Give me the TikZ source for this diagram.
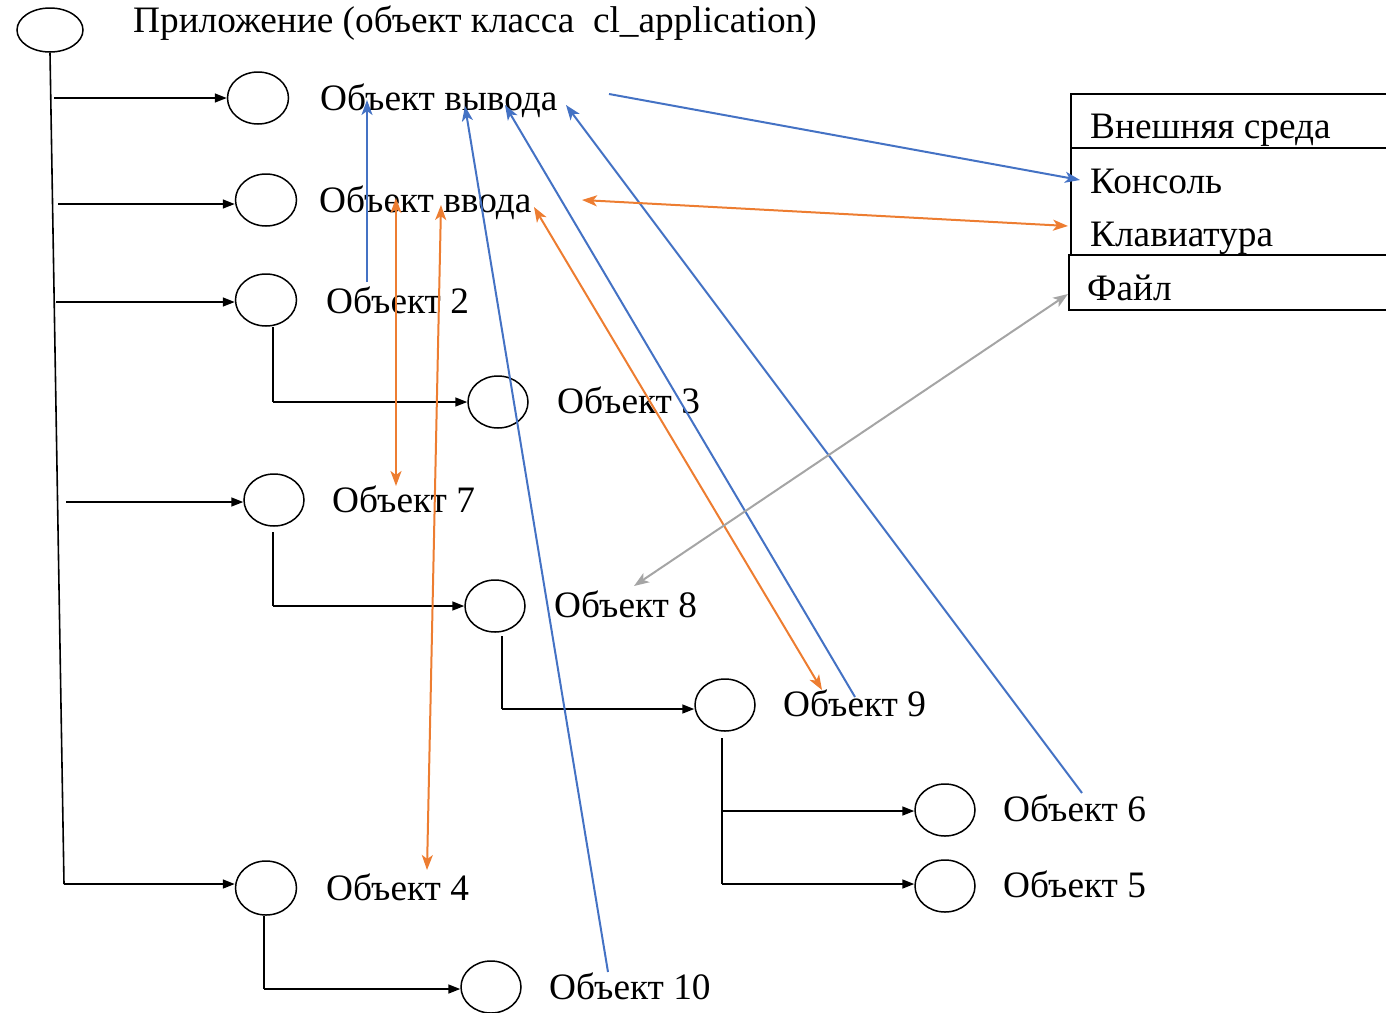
\documentclass[tikz,border=0pt]{standalone}
\usepackage{fontspec}
\setmainfont{Liberation Serif}
\usetikzlibrary{shapes.geometric,arrows.meta}
\definecolor{linkblue}{HTML}{4472C4}
\definecolor{linkorange}{HTML}{ED7D31}
\definecolor{linkgray}{HTML}{A5A5A5}
\begin{document}
\begin{tikzpicture}[x=1pt,y=-1pt,
  obj/.style={draw,ellipse,line width=1.5pt,minimum width=61pt,minimum height=52pt,inner sep=0pt},
  lbl/.style={anchor=base west,inner sep=0pt,font=\fontsize{37.3}{42}\selectfont},
  tree/.style={line width=1.6pt},
  treearrow/.style={tree,-{Triangle[length=12pt,width=9pt]}},
  usesblue/.style={linkblue,line width=2pt,-{Stealth[length=15pt,width=11pt,inset=4pt]}},
  usesorange/.style={linkorange,line width=2pt,{Stealth[length=15pt,width=11pt,inset=4pt]}-{Stealth[length=15pt,width=11pt,inset=4pt]}},
  usesgray/.style={linkgray,line width=2pt,{Stealth[length=15pt,width=11pt,inset=4pt]}-{Stealth[length=15pt,width=11pt,inset=4pt]}},
  envline/.style={line width=1.6pt}]
\useasboundingbox (0,0) rectangle (1386,1012);

% objects of the tree
\node[obj,minimum width=66pt,minimum height=44pt] (app) at (50,30) {};
\node[obj] (out) at (258,98) {};
\node[obj] (in) at (266,200) {};
\node[obj] (o2) at (266,300) {};
\node[obj,minimum width=60pt] (o3) at (498,402) {};
\node[obj,minimum width=60pt] (o7) at (274,500) {};
\node[obj,minimum width=60pt] (o8) at (495,606) {};
\node[obj,minimum width=60pt] (o9) at (725,705) {};
\node[obj,minimum width=60pt] (o6) at (945,810) {};
\node[obj,minimum width=60pt] (o5) at (945,886) {};
\node[obj,minimum height=54pt] (o4) at (266,888) {};
\node[obj,minimum width=60pt] (o10) at (491,987) {};

% labels
\node[lbl] (tapp) at (133,32) {Приложение (объект класса\ \ cl\_application)};
\node[lbl] (tout) at (320,110) {Объект вывода};
\node[lbl] (tin) at (319,212) {Объект ввода};
\node[lbl] (t2) at (326,313) {Объект 2};
\node[lbl] (t3) at (557,413) {Объект 3};
\node[lbl] (t7) at (332,512) {Объект 7};
\node[lbl] (t8) at (554,617) {Объект 8};
\node[lbl] (t9) at (783,716) {Объект 9};
\node[lbl] (t6) at (1003,821) {Объект 6};
\node[lbl] (t5) at (1003,897) {Объект 5};
\node[lbl] (t4) at (326,900) {Объект 4};
\node[lbl] (t10) at (549,999) {Объект 10};

% external environment
\node[lbl] (env) at (1090,138) {Внешняя среда};
\node[lbl] (con) at (1090,193) {Консоль};
\node[lbl] (kbd) at (1090,246) {Клавиатура};
\node[lbl] (file) at (1087,300) {Файл};
\draw[envline] (1386,94) -- (1071,94) -- (1071,255) -- (1386,255);
\draw[envline] (1071,148) -- (1386,148);
\draw[envline] (1386,255) -- (1069,255) -- (1069,310) -- (1386,310);

% trunk of the tree
\coordinate (trunkend) at (64,884);
\draw[tree] (app.south) -- (trunkend);
\coordinate (b1) at (54,98);
\coordinate (b2) at (58,204);
\coordinate (b3) at (56,302);
\coordinate (b4) at (66,502);
\draw[treearrow] (b1) -- (out.west);
\draw[treearrow] (b2) -- (in.west |- b2);
\draw[treearrow] (b3) -- (o2.west |- b3);
\draw[treearrow] (b4) -- (o7.west |- b4);
\draw[treearrow] (trunkend) -- (o4.west |- trunkend);

% subtrees
\coordinate (c2) at (273,402);
\draw[tree] (273,327) -- (c2);
\draw[treearrow] (c2) -- (o3.west);
\coordinate (c7) at (273,606);
\draw[tree] (273,532) -- (c7);
\draw[treearrow] (c7) -- (o8.west);
\coordinate (c8) at (502,709);
\draw[tree] (502,636) -- (c8);
\draw[treearrow] (c8) -- (o9.west |- c8);
\coordinate (c9a) at (722,811);
\coordinate (c9b) at (722,884);
\draw[tree] (722,738) -- (c9b);
\draw[treearrow] (c9a) -- (o6.west |- c9a);
\draw[treearrow] (c9b) -- (o5.west |- c9b);
\coordinate (c4) at (264,989);
\draw[tree] (264,916) -- (c4);
\draw[treearrow] (c4) -- (o10.west |- c4);

% data links: output
\coordinate (outR) at (609,94);
\coordinate (conL) at (1080,180);
\draw[usesblue] (outR) -- (conL);
\coordinate (t2top) at (367,282);
\coordinate (outA) at (367,100);
\draw[usesblue] (t2top) -- (outA);
\coordinate (t10top) at (608,972);
\coordinate (outB) at (465,106);
\draw[usesblue] (t10top) -- (outB);
\coordinate (t9top) at (855,697);
\coordinate (outC) at (505,105);
\draw[usesblue] (t9top) -- (outC);
\coordinate (t6top) at (1082,793);
\coordinate (outD) at (566,105);
\draw[usesblue] (t6top) -- (outD);

% data links: input
\coordinate (inR) at (582,200);
\coordinate (kbdL) at (1068,226);
\draw[usesorange] (inR) -- (kbdL);
\coordinate (inA) at (396,198);
\coordinate (t7top) at (396,486);
\draw[usesorange] (inA) -- (t7top);
\coordinate (inB) at (441,205);
\coordinate (t4top) at (427,870);
\draw[usesorange] (inB) -- (t4top);
\coordinate (inC) at (534,207);
\coordinate (t9tip) at (822,690);
\draw[usesorange] (inC) -- (t9tip);

% data link: file
\coordinate (fileL) at (1068,294);
\coordinate (t8top) at (634,586);
\draw[usesgray] (fileL) -- (t8top);
\end{tikzpicture}
\end{document}
